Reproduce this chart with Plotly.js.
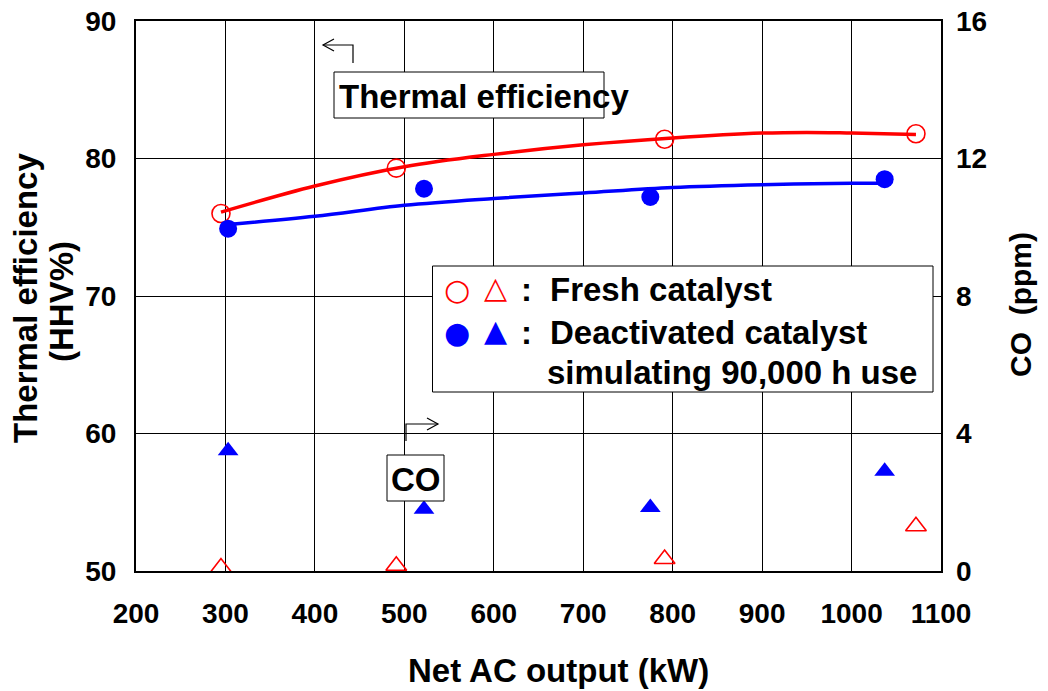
<!DOCTYPE html>
<html><head><meta charset="utf-8">
<script src="https://cdn.plot.ly/plotly-3.0.1.min.js"></script>
<style>html,body{margin:0;padding:0;background:#fff}#chart{width:1048px;height:691px}</style>
</head><body><div id="chart"></div>
<script>
// Data
const freshPowerKW = [295, 491, 791, 1072];
const freshEfficiency = [76.0, 79.3, 81.4, 81.8];
const deactPowerKW = [303, 522, 775, 1037];
const deactEfficiency = [74.9, 77.8, 77.2, 78.5];
const freshCO = [0.1, 0.15, 0.35, 1.3];
const deactCO = [3.5, 1.8, 1.85, 2.9];
// Trend curves
const freshFitX = [295, 400, 500, 600, 700, 800, 900, 950, 1000, 1072];
const freshFitY = [76.1, 78.0, 79.4, 80.3, 81.0, 81.5, 81.85, 81.9, 81.85, 81.75];
const deactFitX = [303, 400, 500, 600, 700, 800, 900, 1000, 1037];
const deactFitY = [75.2, 75.8, 76.6, 77.1, 77.5, 77.9, 78.1, 78.2, 78.2];
const xTicks = [200, 300, 400, 500, 600, 700, 800, 900, 1000, 1100];
const yTicks = [50, 60, 70, 80, 90];
const y2Ticks = [0, 4, 8, 12, 16];

const F = "Liberation Sans, Arial, sans-serif";
const red = "#ff0000", blue = "#0000ff";

// plot area in pixels (for annotation placement only)
const L = 136, R = 941, T = 21, B = 571;
const px = p => (p - L) / (R - L);        // paper x
const py = p => (B - p) / (B - T);        // paper y

const traces = [
  {x: freshFitX, y: freshFitY, mode: "lines", line: {color: red, width: 3.5, shape: "spline"}, hoverinfo: "skip"},
  {x: deactFitX, y: deactFitY, mode: "lines", line: {color: blue, width: 3.5, shape: "spline"}, hoverinfo: "skip"},
  {x: freshPowerKW, y: freshEfficiency, mode: "markers", marker: {symbol: "circle-open", size: 18, color: red, line: {width: 1.6, color: red}}},
  {x: deactPowerKW, y: deactEfficiency, mode: "markers", marker: {symbol: "circle", size: 18, color: blue}},
  {x: freshPowerKW, y: freshCO, yaxis: "y2", mode: "markers", cliponaxis: false, marker: {symbol: "triangle-up-open", size: 18, color: red, line: {width: 1.6, color: red}}},
  {x: deactPowerKW, y: deactCO, yaxis: "y2", mode: "markers", cliponaxis: false, marker: {symbol: "triangle-up", size: 18, color: blue}}
];

const tickFont = {family: F, size: 28, color: "#000", weight: "bold"};
const titleFont = {family: F, size: 33, color: "#000", weight: "bold"};
const rightTitleFont = {family: F, size: 30, color: "#000", weight: "bold"};
const symFont = {family: "DejaVu Sans, sans-serif", size: 30, weight: "bold"};

const lineStyle = {color: "#000", width: 1.2};
const pathPx = pts => "M " + pts.map(p => px(p[0]) + " " + py(p[1])).join(" L ");

const layout = {
  width: 1048, height: 691,
  margin: {l: L, r: 1048 - R, t: T, b: 691 - B},
  paper_bgcolor: "#fff", plot_bgcolor: "#fff",
  showlegend: false,
  xaxis: {
    range: [200, 1100], tickvals: xTicks, ticktext: xTicks.map(String),
    showgrid: true, gridcolor: "#000", gridwidth: 1,
    showline: true, linecolor: "#000", linewidth: 2, mirror: true,
    ticks: "", ticklabelstandoff: 16, tickfont: tickFont, zeroline: false
  },
  yaxis: {
    range: [50, 90], tickvals: yTicks, ticktext: yTicks.map(String),
    showgrid: true, gridcolor: "#000", gridwidth: 1,
    showline: true, linecolor: "#000", linewidth: 2, mirror: true,
    ticks: "", ticklabelstandoff: 12, tickfont: tickFont, zeroline: false
  },
  yaxis2: {
    overlaying: "y", side: "right", range: [0, 16], tickvals: y2Ticks, ticktext: y2Ticks.map(String),
    showgrid: false, showline: false, ticks: "", ticklabelstandoff: 14, tickfont: tickFont, zeroline: false
  },
  shapes: [
    // Thermal efficiency label box
    {type: "rect", xref: "paper", yref: "paper", x0: px(334), x1: px(604), y0: py(118), y1: py(72), line: {color: "#000", width: 1}, fillcolor: "#fff", layer: "above"},
    // arrow toward the left axis
    {type: "path", xref: "paper", yref: "paper", path: pathPx([[353, 63], [353, 45], [323, 45]]), line: lineStyle},
    {type: "path", xref: "paper", yref: "paper", path: pathPx([[334, 39], [323, 45], [334, 51]]), line: lineStyle},
    // CO label box
    {type: "rect", xref: "paper", yref: "paper", x0: px(387), x1: px(444), y0: py(501), y1: py(455), line: {color: "#000", width: 1}, fillcolor: "#fff", layer: "above"},
    // arrow toward the right axis
    {type: "path", xref: "paper", yref: "paper", path: pathPx([[406, 441], [406, 424], [438, 424]]), line: lineStyle},
    {type: "path", xref: "paper", yref: "paper", path: pathPx([[427, 418], [438, 424], [427, 430]]), line: lineStyle},
    // legend box
    {type: "rect", xref: "paper", yref: "paper", x0: px(432.5), x1: px(933), y0: py(392), y1: py(266), line: {color: "#000", width: 1}, fillcolor: "#fff", layer: "above"}
  ],
  annotations: [
    // axis titles
    {xref: "paper", yref: "paper", x: px(558), y: py(670), xanchor: "center", yanchor: "middle", showarrow: false,
     text: "Net AC output (kW)", font: titleFont},
    {xref: "paper", yref: "paper", x: px(25), y: py(298), xanchor: "center", yanchor: "middle", textangle: -90, showarrow: false,
     text: "Thermal efficiency", font: titleFont},
    {xref: "paper", yref: "paper", x: px(61), y: py(302), xanchor: "center", yanchor: "middle", textangle: -90, showarrow: false,
     text: "(HHV%)", font: titleFont},
    {xref: "paper", yref: "paper", x: px(1020), y: py(305), xanchor: "center", yanchor: "middle", textangle: -90, showarrow: false,
     text: "CO&nbsp;&nbsp;(ppm)", font: rightTitleFont},
    // labels
    {xref: "paper", yref: "paper", x: px(337), y: py(96), xanchor: "left", yanchor: "middle", text: "Thermal efficiency", showarrow: false, font: titleFont},
    {xref: "paper", yref: "paper", x: px(415.5), y: py(479), xanchor: "center", yanchor: "middle", text: "CO", showarrow: false, font: titleFont},
    // legend content
    {xref: "paper", yref: "paper", x: px(457), y: py(289), xanchor: "center", yanchor: "middle", showarrow: false, text: "○", font: Object.assign({color: red}, symFont)},
    {xref: "paper", yref: "paper", x: px(495), y: py(287), xanchor: "center", yanchor: "middle", showarrow: false, text: "△", font: Object.assign({color: red}, symFont)},
    {xref: "paper", yref: "paper", x: px(526), y: py(289), xanchor: "center", yanchor: "middle", showarrow: false, text: ":", font: titleFont},
    {xref: "paper", yref: "paper", x: px(457), y: py(332), xanchor: "center", yanchor: "middle", showarrow: false, text: "●", font: Object.assign({color: blue}, symFont)},
    {xref: "paper", yref: "paper", x: px(495), y: py(330), xanchor: "center", yanchor: "middle", showarrow: false, text: "▲", font: Object.assign({color: blue}, symFont)},
    {xref: "paper", yref: "paper", x: px(526), y: py(332), xanchor: "center", yanchor: "middle", showarrow: false, text: ":", font: titleFont},
    {xref: "paper", yref: "paper", x: px(548), y: py(289), xanchor: "left", yanchor: "middle", showarrow: false, text: "Fresh catalyst", font: titleFont},
    {xref: "paper", yref: "paper", x: px(548), y: py(332), xanchor: "left", yanchor: "middle", showarrow: false, text: "Deactivated catalyst", font: titleFont},
    {xref: "paper", yref: "paper", x: px(545), y: py(372), xanchor: "left", yanchor: "middle", showarrow: false, text: "simulating 90,000 h use", font: titleFont}
  ]
};

Plotly.newPlot("chart", traces, layout, {displayModeBar: false, staticPlot: true});
</script>
</body></html>
